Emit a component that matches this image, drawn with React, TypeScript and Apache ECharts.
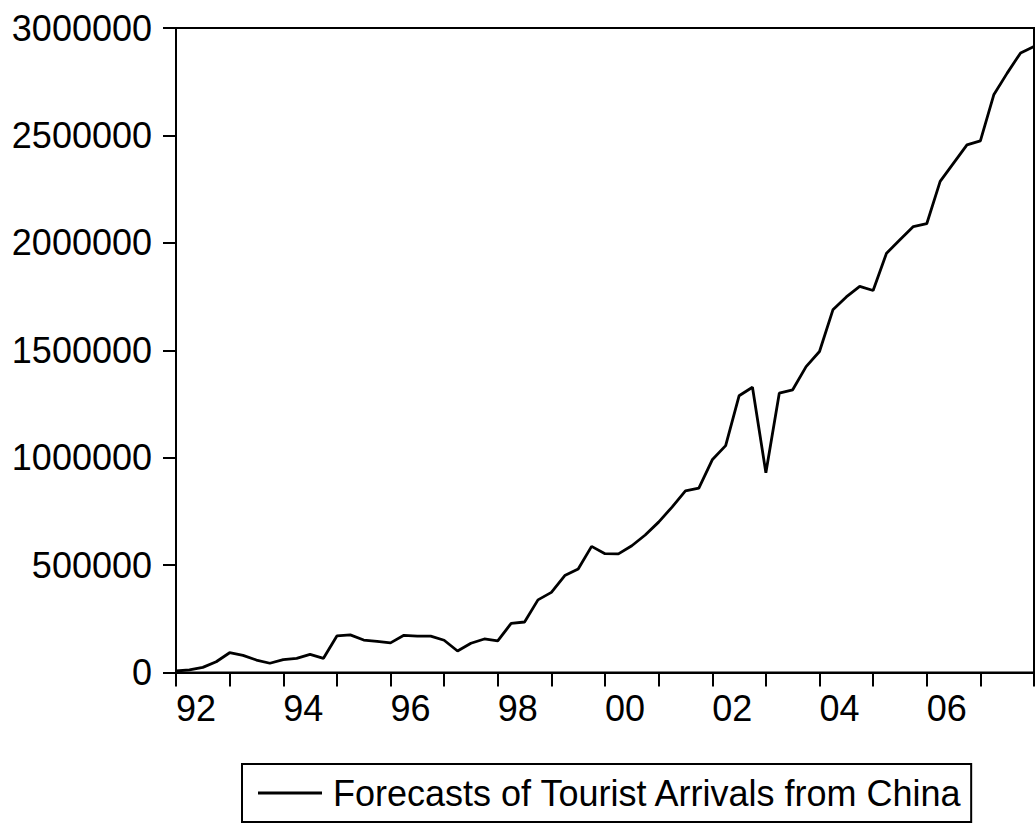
import React, { useEffect, useRef } from "react";
import * as echarts from "echarts";

const seriesName = "Forecasts of Tourist Arrivals from China";

const startYear = 1992;
const quarterCount = 65; // 1992Q1 .. 2008Q1
const categories: string[] = [];
for (let i = 0; i < quarterCount; i++) {
  const y = startYear + Math.floor(i / 4);
  categories.push(`${y}Q${(i % 4) + 1}`);
}

const arrivals: number[] = [
  7000, 12000, 24000, 50000, 92000, 80000, 58000, 43000,
  60000, 66000, 84000, 66000, 170000, 175000, 151000, 145000,
  138000, 173000, 169000, 169000, 150000, 100000, 136000, 156000,
  147000, 229000, 235000, 338000, 373000, 451000, 482000, 587000,
  553000, 552000, 590000, 640000, 700000, 770000, 845000, 858000,
  990000, 1056000, 1288000, 1328000, 930000, 1300000, 1316000, 1424000,
  1494000, 1688000, 1748000, 1797000, 1778000, 1952000, 2014000, 2076000,
  2089000, 2286000, 2371000, 2456000, 2475000, 2689000, 2790000, 2884000,
  2914000,
];

const yMin = 0;
const yMax = 3000000;
const yStep = 500000;

const FONT = "'Liberation Sans', Arial, sans-serif";

export default function App() {
  const ref = useRef<HTMLDivElement>(null);
  useEffect(() => {
    if (!ref.current) return;
    const chart = echarts.init(ref.current, undefined, { renderer: "svg" });
    chart.setOption({
      animation: false,
      backgroundColor: "#ffffff",
      grid: {
        left: 176,
        top: 28,
        width: 858,
        height: 644.5,
        show: true,
        borderColor: "#000000",
        borderWidth: 2,
        backgroundColor: "transparent",
      },
      xAxis: {
        type: "category",
        data: categories,
        boundaryGap: false,
        axisLine: { show: true, lineStyle: { color: "#000", width: 2 } },
        axisTick: {
          show: true,
          inside: false,
          length: 14,
          interval: (index: number) => index % 4 === 0,
          lineStyle: { color: "#000", width: 2 },
        },
        axisLabel: {
          interval: (index: number) => index % 8 === 0 && index < quarterCount - 1,
          formatter: (v: string) => v.slice(2, 4),
          align: "left",
          margin: 18,
          color: "#000",
          fontSize: 36,
          fontFamily: FONT,
        },
        splitLine: { show: false },
      },
      yAxis: {
        type: "value",
        min: yMin,
        max: yMax,
        interval: yStep,
        axisLine: { show: true, lineStyle: { color: "#000", width: 2 } },
        axisTick: {
          show: true,
          inside: false,
          length: 13,
          lineStyle: { color: "#000", width: 2 },
        },
        axisLabel: {
          formatter: (v: number) => String(v),
          margin: 24,
          color: "#000",
          fontSize: 36,
          fontFamily: FONT,
          padding: [0, 0, 6, 0],
        },
        splitLine: { show: false },
      },
      legend: {
        show: true,
        left: 242,
        top: 764,
        orient: "horizontal",
        padding: [11, 8, 11, 16],
        borderColor: "#000",
        borderWidth: 2,
        itemWidth: 64,
        itemHeight: 3,
        icon: "rect",
        textStyle: {
          color: "#000",
          fontSize: 36,
          fontFamily: FONT,
          padding: [0, 0, 0, 6],
        },
        data: [seriesName],
      },
      series: [
        {
          name: seriesName,
          type: "line",
          data: arrivals,
          showSymbol: false,
          symbol: "none",
          lineStyle: { color: "#000", width: 2.8 },
          itemStyle: { color: "#000" },
        },
      ],
    });
    return () => chart.dispose();
  }, []);
  return (
    <div
      ref={ref}
      style={{ position: "fixed", left: 0, top: 0, width: 1036, height: 824 }}
    />
  );
}
